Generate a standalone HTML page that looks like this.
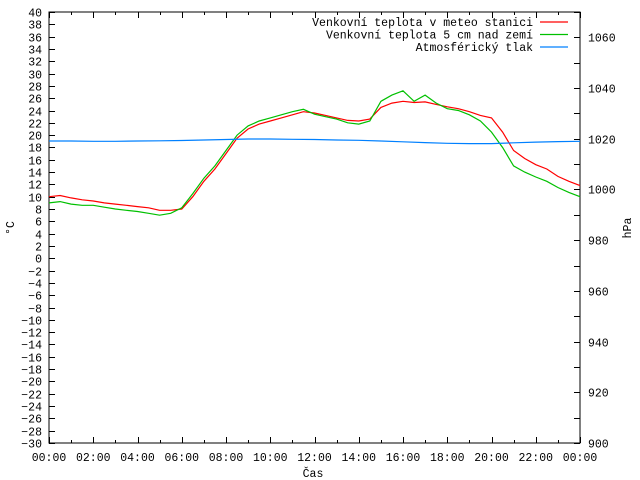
<!DOCTYPE html>
<html><head><meta charset="utf-8"><style>
html,body{margin:0;padding:0;background:#fff;}
svg{display:block;font-family:"Liberation Mono",monospace;font-size:11.5px;}
</style></head><body>
<svg id="chart" width="640" height="480" viewBox="0 0 640 480">
<g id="axes"></g>
<g id="series"></g>
<g id="legend"></g>
<text x="14" y="228" transform="rotate(-90 14 228)" text-anchor="middle">°C</text>
<text x="631" y="228" transform="rotate(-90 631 228)" text-anchor="middle">hPa</text>
<text x="313" y="477" text-anchor="middle">Čas</text>
</svg>
<script>
const xTickLabels = ["00:00","02:00","04:00","06:00","08:00","10:00","12:00","14:00","16:00","18:00","20:00","22:00","00:00"];
const stationTemp = [10,10.2,9.8,9.5,9.3,9,8.8,8.6,8.4,8.2,7.8,7.8,8,10,12.5,14.5,17,19.5,21,21.8,22.3,22.8,23.3,23.8,23.6,23.2,22.8,22.4,22.3,22.6,24.5,25.2,25.5,25.3,25.4,25,24.6,24.3,23.8,23.2,22.8,20.5,17.5,16.2,15.2,14.5,13.3,12.5,11.8];
const groundTemp = [9,9.2,8.8,8.6,8.6,8.3,8,7.8,7.6,7.3,7,7.3,8.2,10.5,13,15,17.5,20,21.5,22.3,22.8,23.3,23.8,24.2,23.4,23,22.6,22,21.8,22.3,25.5,26.5,27.2,25.5,26.5,25.2,24.3,24,23.3,22.3,20.5,18,15,14,13.2,12.5,11.5,10.7,10];
const pressure = [1019.1,1019.1,1019.0,1019.0,1019.1,1019.2,1019.3,1019.5,1019.7,1019.9,1019.9,1019.8,1019.7,1019.5,1019.4,1019.1,1018.8,1018.5,1018.2,1018.1,1018.1,1018.4,1018.7,1018.9,1019.0];
const legendLabels = ["Venkovní teplota v meteo stanici","Venkovní teplota 5 cm nad zemí","Atmosférický tlak"];

const NS="http://www.w3.org/2000/svg";
const L=49,R=580,T=12,B=443;
const xScale=h=>L+h*(R-L)/24;
const yScale=v=>B-(v+30)*(B-T)/70;
const y2Scale=p=>B-(p-900)*(B-T)/170;
function mk(tag,attrs,parent){const e=document.createElementNS(NS,tag);for(const k in attrs)e.setAttribute(k,attrs[k]);parent.appendChild(e);return e;}
const axes=document.getElementById('axes');
const frame=mk('rect',{x:L,y:T,width:R-L,height:B-T,fill:'none',stroke:'#000','stroke-width':1},axes);


for(let v=-30;v<=40;v+=2){
  const y=Math.round(yScale(v))+0.5;
  const t=mk('line',{x1:L,x2:L+6,y1:y,y2:y,stroke:'#000'},axes);
  
  
  const lb=mk('text',{x:L-7,y:y+4,'text-anchor':'end'},axes);lb.textContent=v<0?'\u2212'+(-v):v;
  
  
}
for(let p=900;p<=1070;p+=10){
  const y=Math.round(y2Scale(p))+0.5;
  const t=mk('line',{x1:R-6,x2:R,y1:y,y2:y,stroke:'#000'},axes);
  
  
  if(p%20===0&&p<=1060){
    const lb=mk('text',{x:R+8,y:y+4},axes);lb.textContent=p;
    
    
  }
}
for(let h=0;h<=24;h++){
  const x=Math.round(xScale(h))+0.5,len=h%2===0?6:3;
  const t1=mk('line',{x1:x,x2:x,y1:B,y2:B-len,stroke:'#000'},axes);
  
  
  const t2=mk('line',{x1:x,x2:x,y1:T,y2:T+len,stroke:'#000'},axes);
  
  
}
xTickLabels.forEach((s,i)=>{
  const lb=mk('text',{x:xScale(i*2),y:B+18,'text-anchor':'middle'},axes);lb.textContent=s;
  
  
});
const ser=document.getElementById('series');
function line(vals,step,sc,color,name){
  const pts=vals.map((v,i)=>xScale(i*step).toFixed(1)+','+sc(v).toFixed(1)).join(' ');
  const pl=mk('polyline',{points:pts,fill:'none',stroke:color,'stroke-width':1.2},ser);
  
  
}
line(stationTemp,0.5,yScale,'#ff0000','station-temperature-line');
line(groundTemp,0.5,yScale,'#00c000','ground-temperature-line');
line(pressure,1,y2Scale,'#0080ff','pressure-line');
const leg=document.getElementById('legend');
const colors=['#ff0000','#00c000','#0080ff'];
legendLabels.forEach((s,i)=>{
  const y=22+i*12.5;
  const t=mk('text',{x:533,y:y+4,'text-anchor':'end'},leg);t.textContent=s;
  
  
  const l=mk('line',{x1:540,x2:568,y1:y,y2:y,stroke:colors[i],'stroke-width':1.2},leg);
  
  
});
</script>
</body></html>
